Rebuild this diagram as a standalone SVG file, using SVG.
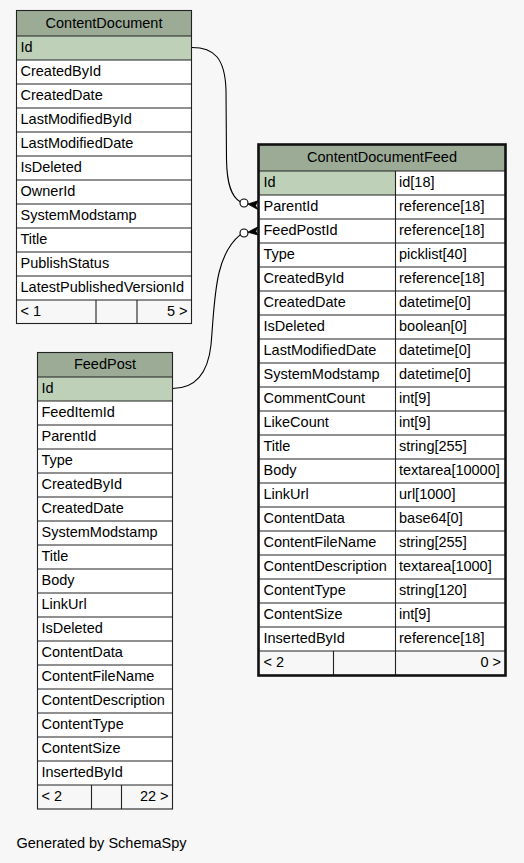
<svg xmlns="http://www.w3.org/2000/svg" width="524" height="863" viewBox="0 0 524 863">
<style>
text{font-family:"Liberation Sans",Arial,Helvetica,sans-serif;font-size:14.5px;fill:#000}
.hd{fill:#9bab96}
.pk{fill:#bed1b8}
.bd{fill:#ffffff}
.ft{fill:#f7f7f7}
.ln{stroke:#222;stroke-width:1.1;fill:none}
.box{stroke:#222;stroke-width:1.1;fill:none}
.boxf{stroke:#111;stroke-width:2.6;fill:none}
.c{text-anchor:middle}
.e{text-anchor:end}
.edge{stroke:#000;stroke-width:1.1;fill:none}
.dot{stroke:#000;stroke-width:1.1;fill:#fff}
.crow{fill:#000;stroke:#000;stroke-width:0.8}
</style>
<rect x="0" y="0" width="524" height="863" fill="#f7f7f7"/>

<g id="connectors">
<path class="edge" d="M192,47.5 C214,47.5 225,58 226,90 L226.5,160 C227,186 232,197 240.2,201.8"/>
<circle class="dot" cx="244" cy="203" r="4"/>
<polygon class="crow" points="247.8,204 258,200.8 255.6,205.6 257.8,209.5"/>
<path class="edge" d="M172.5,388.5 C196,388.5 208,372 211,345 C215,300 214,256 240.4,234.6"/>
<circle class="dot" cx="244" cy="233" r="4"/>
<polygon class="crow" points="247.8,232.2 258,226.8 255.8,231.2 258,235"/>
</g>

<g id="ContentDocument">
<rect class="bd" x="16.5" y="10.5" width="175" height="313"/>
<rect class="hd" x="16.5" y="10.5" width="175" height="25.5"/>
<rect class="pk" x="16.5" y="36" width="175" height="24"/>
<rect class="ft" x="16.5" y="300" width="175" height="23.5"/>
<path class="ln" d="M16.5,36H191.5M16.5,60H191.5M16.5,84H191.5M16.5,108H191.5M16.5,132H191.5M16.5,156H191.5M16.5,180H191.5M16.5,204H191.5M16.5,228H191.5M16.5,252H191.5M16.5,276H191.5M16.5,300H191.5M96,300V323.5M137,300V323.5"/>
<rect class="box" x="16.5" y="10.5" width="175" height="313"/>
<text class="c" x="104" y="27.5">ContentDocument</text>
<text x="20.5" y="52">Id</text>
<text x="20.5" y="76">CreatedById</text>
<text x="20.5" y="100">CreatedDate</text>
<text x="20.5" y="124">LastModifiedById</text>
<text x="20.5" y="148">LastModifiedDate</text>
<text x="20.5" y="172">IsDeleted</text>
<text x="20.5" y="196">OwnerId</text>
<text x="20.5" y="220">SystemModstamp</text>
<text x="20.5" y="244">Title</text>
<text x="20.5" y="268">PublishStatus</text>
<text x="20.5" y="292">LatestPublishedVersionId</text>
<text x="20.5" y="316">&lt; 1</text>
<text class="e" x="187.5" y="316">5 &gt;</text>
</g>

<g id="FeedPost">
<rect class="bd" x="37.5" y="352.5" width="135" height="456.5"/>
<rect class="hd" x="37.5" y="352.5" width="135" height="24.5"/>
<rect class="pk" x="37.5" y="377" width="135" height="24"/>
<rect class="ft" x="37.5" y="785" width="135" height="24"/>
<path class="ln" d="M37.5,377H172.5M37.5,401H172.5M37.5,425H172.5M37.5,449H172.5M37.5,473H172.5M37.5,497H172.5M37.5,521H172.5M37.5,545H172.5M37.5,569H172.5M37.5,593H172.5M37.5,617H172.5M37.5,641H172.5M37.5,665H172.5M37.5,689H172.5M37.5,713H172.5M37.5,737H172.5M37.5,761H172.5M37.5,785H172.5M91.5,785V809M121.5,785V809"/>
<rect class="box" x="37.5" y="352.5" width="135" height="456.5"/>
<text class="c" x="105" y="369">FeedPost</text>
<text x="41.5" y="393">Id</text>
<text x="41.5" y="417">FeedItemId</text>
<text x="41.5" y="441">ParentId</text>
<text x="41.5" y="465">Type</text>
<text x="41.5" y="489">CreatedById</text>
<text x="41.5" y="513">CreatedDate</text>
<text x="41.5" y="537">SystemModstamp</text>
<text x="41.5" y="561">Title</text>
<text x="41.5" y="585">Body</text>
<text x="41.5" y="609">LinkUrl</text>
<text x="41.5" y="633">IsDeleted</text>
<text x="41.5" y="657">ContentData</text>
<text x="41.5" y="681">ContentFileName</text>
<text x="41.5" y="705">ContentDescription</text>
<text x="41.5" y="729">ContentType</text>
<text x="41.5" y="753">ContentSize</text>
<text x="41.5" y="777">InsertedById</text>
<text x="41.5" y="801">&lt; 2</text>
<text class="e" x="168.5" y="801">22 &gt;</text>
</g>

<g id="ContentDocumentFeed">
<rect class="bd" x="258.5" y="144.5" width="247" height="531"/>
<rect class="hd" x="258.5" y="144.5" width="247" height="26.5"/>
<rect class="pk" x="258.5" y="171" width="137" height="24"/>
<rect class="ft" x="258.5" y="651" width="247" height="24.5"/>
<path class="ln" d="M258.5,171H505.5M258.5,195H505.5M258.5,219H505.5M258.5,243H505.5M258.5,267H505.5M258.5,291H505.5M258.5,315H505.5M258.5,339H505.5M258.5,363H505.5M258.5,387H505.5M258.5,411H505.5M258.5,435H505.5M258.5,459H505.5M258.5,483H505.5M258.5,507H505.5M258.5,531H505.5M258.5,555H505.5M258.5,579H505.5M258.5,603H505.5M258.5,627H505.5M258.5,651H505.5M395.5,171V675.5M333.5,651V675.5"/>
<rect class="boxf" x="258.5" y="144.5" width="247" height="531"/>
<text class="c" x="382" y="161.5">ContentDocumentFeed</text>
<text x="263.5" y="187">Id</text><text x="399" y="187">id[18]</text>
<text x="263.5" y="211">ParentId</text><text x="399" y="211">reference[18]</text>
<text x="263.5" y="235">FeedPostId</text><text x="399" y="235">reference[18]</text>
<text x="263.5" y="259">Type</text><text x="399" y="259">picklist[40]</text>
<text x="263.5" y="283">CreatedById</text><text x="399" y="283">reference[18]</text>
<text x="263.5" y="307">CreatedDate</text><text x="399" y="307">datetime[0]</text>
<text x="263.5" y="331">IsDeleted</text><text x="399" y="331">boolean[0]</text>
<text x="263.5" y="355">LastModifiedDate</text><text x="399" y="355">datetime[0]</text>
<text x="263.5" y="379">SystemModstamp</text><text x="399" y="379">datetime[0]</text>
<text x="263.5" y="403">CommentCount</text><text x="399" y="403">int[9]</text>
<text x="263.5" y="427">LikeCount</text><text x="399" y="427">int[9]</text>
<text x="263.5" y="451">Title</text><text x="399" y="451">string[255]</text>
<text x="263.5" y="475">Body</text><text x="399" y="475">textarea[10000]</text>
<text x="263.5" y="499">LinkUrl</text><text x="399" y="499">url[1000]</text>
<text x="263.5" y="523">ContentData</text><text x="399" y="523">base64[0]</text>
<text x="263.5" y="547">ContentFileName</text><text x="399" y="547">string[255]</text>
<text x="263.5" y="571">ContentDescription</text><text x="399" y="571">textarea[1000]</text>
<text x="263.5" y="595">ContentType</text><text x="399" y="595">string[120]</text>
<text x="263.5" y="619">ContentSize</text><text x="399" y="619">int[9]</text>
<text x="263.5" y="643">InsertedById</text><text x="399" y="643">reference[18]</text>
<text x="263.5" y="667">&lt; 2</text>
<text class="e" x="501" y="667">0 &gt;</text>
</g>

<text x="16.5" y="848">Generated by SchemaSpy</text>
</svg>
